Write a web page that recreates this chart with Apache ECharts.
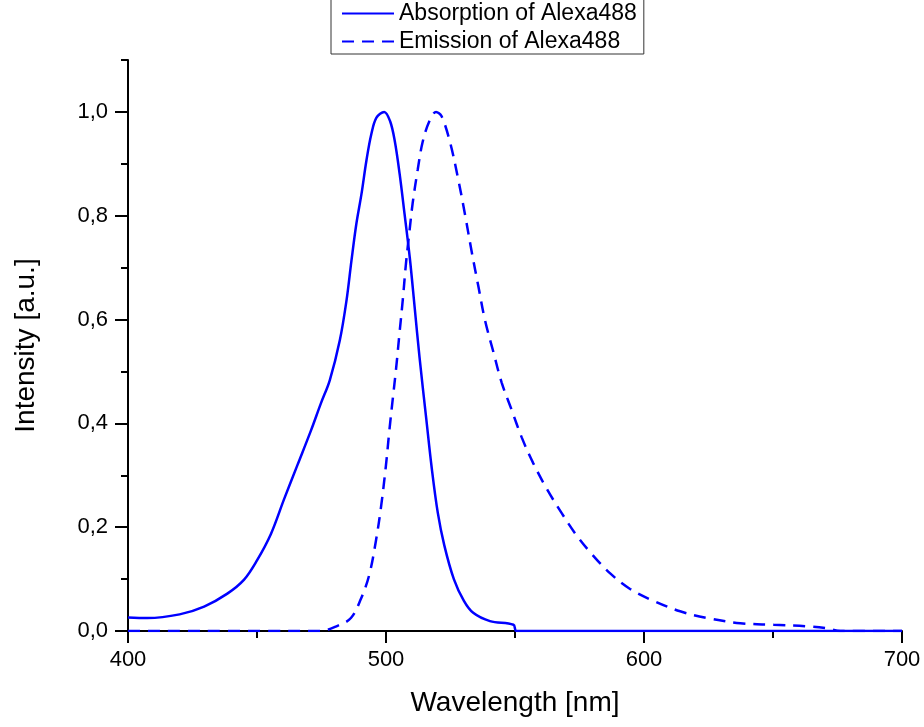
<!DOCTYPE html>
<html><head><meta charset="utf-8">
<script src="https://cdn.jsdelivr.net/npm/echarts@6/dist/echarts.min.js"></script>
<style>html,body{margin:0;padding:0;background:#fff}#c{width:924px;height:727px}</style>
</head><body><div id="c"></div>
<script>
const seriesNames = ['Absorption of Alexa488', 'Emission of Alexa488'];
const absWavelength = [400, 407.5, 420, 429.5, 438.5, 445, 450, 455.4, 460.5, 465.7, 470.9, 474.8, 478.2, 482.1, 484.7, 486.6, 488.5, 490.5, 492.4, 494.3, 496.3, 499.3, 501.6, 503.4, 505.3, 507.2, 509.2, 511.1, 513, 515.6, 517.7, 520.1, 522.6, 526.3, 530.2, 533.8, 540.3, 549.4, 550.6, 700];
const absIntensity = [0.026, 0.025, 0.032, 0.047, 0.072, 0.099, 0.136, 0.187, 0.254, 0.320, 0.386, 0.439, 0.483, 0.560, 0.637, 0.713, 0.784, 0.842, 0.906, 0.957, 0.989, 1.0, 0.982, 0.944, 0.880, 0.803, 0.720, 0.624, 0.527, 0.409, 0.315, 0.227, 0.165, 0.100, 0.058, 0.035, 0.019, 0.012, 0, 0];
const emWavelength = [400, 474.5, 481.2, 486.4, 490.3, 493.5, 496.1, 498.1, 500, 501.3, 502.6, 503.9, 505.2, 506.5, 507.8, 509.1, 510.3, 512.3, 514.2, 516.8, 519.4, 521.5, 524.8, 528, 530.6, 533.2, 535.8, 538.4, 541.6, 544.8, 548.7, 552.6, 557.1, 562.3, 568.1, 573.9, 579.8, 586.9, 594.6, 603.7, 614, 624.4, 637.3, 650.3, 663.2, 671, 676.1, 700];
const emIntensity = [0, 0, 0.010, 0.025, 0.062, 0.108, 0.174, 0.240, 0.320, 0.386, 0.446, 0.505, 0.572, 0.638, 0.711, 0.770, 0.823, 0.889, 0.942, 0.982, 1.0, 0.992, 0.942, 0.870, 0.803, 0.731, 0.664, 0.598, 0.538, 0.479, 0.426, 0.373, 0.323, 0.274, 0.227, 0.184, 0.148, 0.111, 0.081, 0.058, 0.038, 0.025, 0.015, 0.012, 0.009, 0.005, 0, 0];
const xTicks = [400, 500, 600, 700];
const yMajorTicks = [0, 0.2, 0.4, 0.6, 0.8, 1.0];
const yMinorTicks = [0.1, 0.3, 0.5, 0.7, 0.9, 1.1];

const FONT = '"Liberation Sans", Arial, sans-serif';
const pairs = (xs, ys) => xs.map((x, i) => [x, ys[i]]);
const chart = echarts.init(document.getElementById('c'));
chart.setOption({
  animation: false,
  backgroundColor: '#fff',
  grid: { left: 128, right: 22, top: 60, bottom: 96, containLabel: false },
  legend: {
    orient: 'vertical', left: 331, top: -8,
    padding: [10, 7, 1, 10],
    itemWidth: 52, itemHeight: 14, itemGap: 5,
    borderColor: '#333', borderWidth: 1, backgroundColor: '#fff',
    itemStyle: { opacity: 0 },
    textStyle: { fontSize: 23, color: '#000', fontFamily: FONT },
    data: seriesNames
  },
  xAxis: {
    type: 'value', min: xTicks[0], max: xTicks[xTicks.length - 1], interval: 100,
    name: 'Wavelength [nm]', nameLocation: 'middle', nameGap: 58,
    nameTextStyle: { fontSize: 28, color: '#000', fontFamily: FONT },
    axisLine: { show: true, onZero: false, lineStyle: { color: '#000', width: 2 } },
    axisTick: { show: true, inside: false, length: 12, lineStyle: { color: '#000', width: 2 } },
    minorTick: { show: true, splitNumber: 2, length: 7, lineStyle: { color: '#000', width: 2 } },
    axisLabel: { fontSize: 22, color: '#000', fontFamily: FONT, margin: 18, customValues: xTicks },
    splitLine: { show: false }, minorSplitLine: { show: false }
  },
  yAxis: [{
    type: 'value', min: 0, max: 1.1, position: 'left',
    name: 'Intensity [a.u.]', nameLocation: 'middle', nameGap: 88,
    nameTextStyle: { fontSize: 28, color: '#000', fontFamily: FONT },
    axisLine: { show: true, onZero: false, lineStyle: { color: '#000', width: 2 } },
    axisTick: { show: true, inside: false, length: 13, customValues: yMajorTicks, lineStyle: { color: '#000', width: 2 } },
    axisLabel: { fontSize: 22, color: '#000', fontFamily: FONT, margin: 20, customValues: yMajorTicks,
      formatter: v => v.toFixed(1).replace('.', ',') },
    splitLine: { show: false }
  }, {
    type: 'value', min: 0, max: 1.1, position: 'left', offset: 0,
    axisLine: { show: false },
    axisTick: { show: true, inside: false, length: 7, customValues: yMinorTicks, lineStyle: { color: '#000', width: 2 } },
    axisLabel: { show: false },
    splitLine: { show: false }
  }],
  series: [{
    name: seriesNames[0], type: 'line', yAxisIndex: 0, symbol: 'none',
    smooth: 0.35,
    lineStyle: { color: '#0000ff', width: 2.5, type: 'solid' },
    itemStyle: { color: '#0000ff', opacity: 0 },
    data: pairs(absWavelength, absIntensity)
  }, {
    name: seriesNames[1], type: 'line', yAxisIndex: 0, symbol: 'none',
    smooth: 0.35,
    lineStyle: { color: '#0000ff', width: 2.5, type: [12, 8] },
    itemStyle: { color: '#0000ff', opacity: 0 },
    data: pairs(emWavelength, emIntensity)
  }]
});
</script></body></html>
